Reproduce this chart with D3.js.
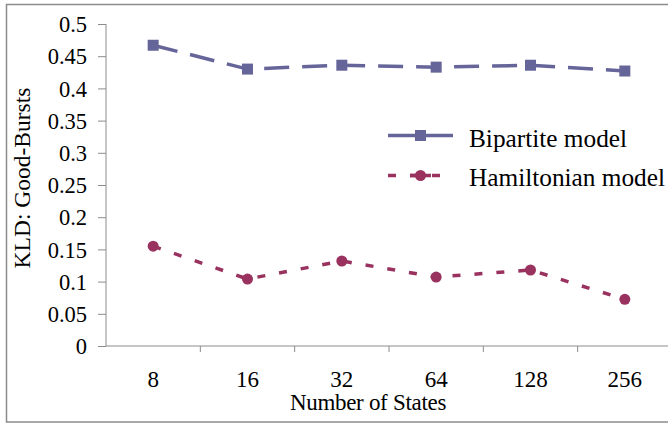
<!DOCTYPE html>
<html><head><meta charset="utf-8">
<script src="https://cdn.jsdelivr.net/npm/d3@7"></script>
<style>body{margin:0;background:#fff}svg{display:block}text{font-family:"Liberation Serif","Times New Roman",serif;fill:#000}</style>
</head><body><svg id="c" width="668" height="425"></svg>
<script>
const categories = ["8","16","32","64","128","256"];
const bipartite = [0.467,0.430,0.436,0.433,0.436,0.427];
const hamiltonian = [0.155,0.104,0.132,0.107,0.118,0.0725];
const yTicks = [0,0.05,0.1,0.15,0.2,0.25,0.3,0.35,0.4,0.45,0.5];
const seriesNames = ["Bipartite model","Hamiltonian model"];

const svg = d3.select("#c");
svg.append("rect").attr("x",6.5).attr("y",4.5).attr("width",700).attr("height",417.5)
  .attr("fill","none").attr("stroke","#8c8c8c").attr("stroke-width",1.5);

const x = d3.scaleBand().domain(categories).range([106,672]);
const y = d3.scaleLinear().domain([0,0.5]).range([346,24]);
const serif = "'Liberation Serif','Times New Roman',serif";

// y axis
const ya = svg.append("g").attr("transform","translate(106,0)")
  .call(d3.axisLeft(y).tickValues(yTicks).tickSize(8).tickFormat(d=>String(d)));
ya.select(".domain").attr("stroke","#8c8c8c").attr("d","M0,24V346");
ya.selectAll(".tick line").attr("stroke","#8c8c8c");
ya.selectAll(".tick text").attr("font-size",22.5).attr("x",-19).attr("dy","0.34em")
  .style("font-family",serif);

// x axis
const xa = svg.append("g").attr("transform","translate(0,346)")
  .call(d3.axisBottom(x).tickSize(0).tickSizeOuter(0));
xa.select(".domain").attr("stroke","#8c8c8c").attr("d","M106,0H668");
xa.selectAll(".tick line").remove();
xa.selectAll(".tick text").attr("font-size",23).attr("y",33).attr("dy","0.34em")
  .style("font-family",serif);
// category boundary ticks
const bounds = categories.map(c=>x(c)).slice(1);
svg.append("g").selectAll("line").data(bounds).join("line")
  .attr("x1",d=>d).attr("x2",d=>d).attr("y1",346).attr("y2",352)
  .attr("stroke","#8c8c8c");

// titles
svg.append("text").attr("transform","translate(30,178) rotate(-90)")
  .attr("text-anchor","middle").attr("font-size",23.5).text("KLD: Good-Bursts");
svg.append("text").attr("x",368).attr("y",410).attr("text-anchor","middle")
  .attr("font-size",23).attr("letter-spacing","-0.3").text("Number of States");

const cx = d => x(d) + x.bandwidth()/2;
const line = d3.line().x(d=>cx(d.c)).y(d=>y(d.v));
const bData = categories.map((c,i)=>({c,v:bipartite[i]}));
const hData = categories.map((c,i)=>({c,v:hamiltonian[i]}));
const bCol = "#65659a", hCol = "#99325f";

svg.append("path").datum(bData).attr("d",line).attr("fill","none")
  .attr("stroke",bCol).attr("stroke-width",3.5).attr("stroke-dasharray","25,13");
svg.selectAll(".bm").data(bData).join("rect").attr("class","bm")
  .attr("x",d=>cx(d.c)-5.5).attr("y",d=>y(d.v)-5.5).attr("width",11).attr("height",11).attr("fill",bCol);

svg.append("path").datum(hData).attr("d",line).attr("fill","none")
  .attr("stroke",hCol).attr("stroke-width",3.5).attr("stroke-dasharray","8,14");
svg.selectAll(".hm").data(hData).join("circle").attr("class","hm")
  .attr("cx",d=>cx(d.c)).attr("cy",d=>y(d.v)).attr("r",5.5).attr("fill",hCol);

// legend
const lg = svg.append("g");
lg.append("line").attr("x1",388).attr("x2",453).attr("y1",135.5).attr("y2",135.5)
  .attr("stroke",bCol).attr("stroke-width",3.5);
lg.append("rect").attr("x",415).attr("y",130).attr("width",11).attr("height",11).attr("fill",bCol);
lg.append("text").attr("x",469).attr("y",147).attr("font-size",25.3).text(seriesNames[0]);
lg.append("line").attr("x1",388).attr("x2",453).attr("y1",175.5).attr("y2",175.5)
  .attr("stroke",hCol).attr("stroke-width",3.5).attr("stroke-dasharray","8,14");
lg.append("circle").attr("cx",420.5).attr("cy",175.5).attr("r",5.5).attr("fill",hCol);
lg.append("line").attr("x1",410).attr("x2",431).attr("y1",175.5).attr("y2",175.5)
  .attr("stroke",hCol).attr("stroke-width",3.5);
lg.append("text").attr("x",469).attr("y",186).attr("font-size",25.3).text(seriesNames[1]);
</script></body></html>
